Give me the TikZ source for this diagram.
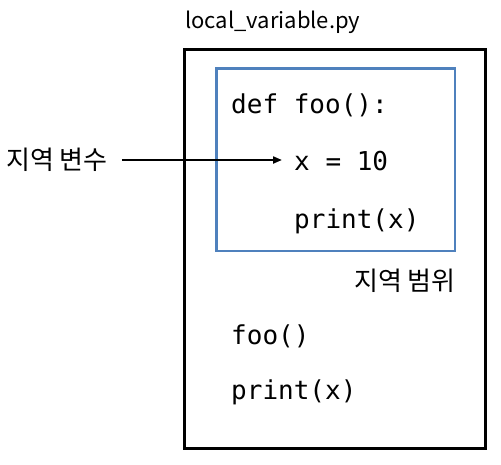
\documentclass[tikz,border=0pt]{standalone}
\usepackage{fontspec}
\setmainfont{Noto Sans CJK KR}
\newfontfamily\codefont{DejaVu Sans Mono}
\usetikzlibrary{arrows.meta,positioning}
\definecolor{scopeblue}{RGB}{79,129,189}

\begin{document}
\begin{tikzpicture}[
            x=1pt, y=-1pt,
            code/.style={anchor=base west, inner sep=0pt, font=\codefont\fontsize{26}{30}\selectfont},
            label/.style={inner sep=0pt, font=\fontsize{22}{26}\selectfont},
            hangul/.style={inner sep=0pt, font=\fontsize{26}{30}\selectfont},
            filebox/.style={draw=black, line width=3pt},
            scopebox/.style={draw=scopeblue, line width=2.5pt},
            arrow/.style={-{Triangle[length=9pt,width=7pt]}, line width=2pt, shorten >=12pt}
        ]
            \useasboundingbox (0,0) rectangle (501,464);
            \node[label, anchor=base west] (title) at (185,28) {local\_variable.py};
            \draw[filebox] (184.5,49.5) rectangle (485,448);
            \draw[scopebox] (216.5,68.5) rectangle (455,251);
            \node[code] (def) at (231,113) {def foo():};
            \node[code] (assign) at (294,170) {x = 10};
            \node[code] (inner) at (294,228) {print(x)};
            \node[hangul, anchor=east] (scope) at (456,281) {지역 범위};
            \node[code] (call) at (231,344) {foo()};
            \node[code] (outer) at (231,399) {print(x)};
            \node[hangul, anchor=west] (var) at (6,160) {지역 변수};
            
            \coordinate (start) at ([xshift=14pt]var.east);
            \draw[arrow] (start) -- (start -| assign.west);
        \end{tikzpicture}
\end{document}
